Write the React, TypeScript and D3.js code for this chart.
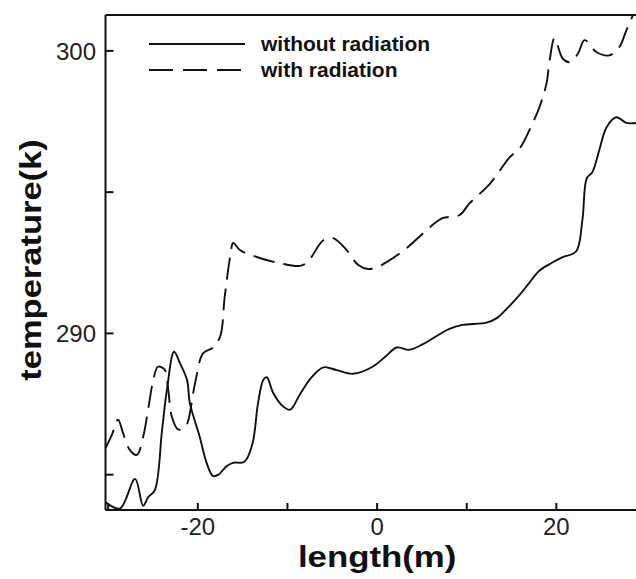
import React from "react";
import * as d3 from "d3";

// ---- data ----
const withoutRadX = [
  -30.4, -28.7, -27.0, -26.1, -25.55, -24.8, -24.0, -23.45, -22.65, -22.0, -21.2, -20.9, -19.8, -19.0,
  -18.3, -17.7, -16.8, -16.1, -14.8, -13.9, -13.3, -12.7, -12.3, -11.6, -10.6, -9.7, -8.6, -7.3, -6.0,
  -4.5, -2.7, -0.5, 1.0, 2.2, 3.6, 5.0, 6.6, 8.0, 9.5, 12.2, 13.4, 14.4, 15.9, 17.0, 18.1, 19.5, 20.7,
  22.2, 22.9, 23.4, 24.0, 24.8, 25.6, 26.7, 27.8, 28.9,
];
const withoutRadY = [
  284.05, 283.8, 284.85, 283.9, 284.2, 284.45, 286.55, 288.0, 289.35, 288.95, 288.35, 287.55, 286.35,
  285.4, 284.95, 285.0, 285.3, 285.42, 285.46, 286.1, 287.5, 288.35, 288.45, 287.9, 287.45, 287.3,
  287.85, 288.45, 288.8, 288.7, 288.57, 288.82, 289.2, 289.5, 289.42, 289.6, 289.9, 290.15, 290.3,
  290.38, 290.55, 290.85, 291.36, 291.8, 292.22, 292.5, 292.7, 292.9, 294.0, 295.5, 295.7, 296.5,
  297.3, 297.65, 297.45, 297.45,
];
const withRadX = [
  -30.4, -29.6, -28.9, -28.35, -27.6, -26.8, -26.1, -25.5, -25.0, -24.45, -23.7, -23.3, -22.9, -22.2,
  -21.45, -21.1, -20.3, -19.4, -18.3, -17.5, -17.0, -16.4, -16.05, -15.3, -13.1, -10.9, -8.6, -7.7,
  -6.0, -4.9, -3.4, -2.1, -1.0, 0.0, 1.1, 3.3, 5.9, 7.3, 9.2, 10.3, 12.6, 14.8, 15.9, 17.0, 18.1, 18.9,
  19.25, 19.8, 20.7, 21.5, 22.4, 23.15, 24.5, 25.9, 27.0, 27.8, 28.6, 29.5,
];
const withRadY = [
  285.88, 286.4, 286.95, 286.48, 285.88, 285.7, 286.34, 287.4, 288.3, 288.82, 288.72, 288.0, 287.05,
  286.6, 286.66, 286.88, 288.25, 289.3, 289.5, 289.9, 291.3, 292.7, 293.2, 292.95, 292.67, 292.49,
  292.39, 292.55, 293.3, 293.37, 292.95, 292.42, 292.28, 292.35, 292.53, 293.02, 293.76, 294.08,
  294.19, 294.6, 295.3, 296.24, 296.55, 297.2, 298.0, 298.85, 299.66, 300.45, 299.73, 299.6, 299.9,
  300.38, 299.95, 299.84, 300.12, 300.72, 301.3, 301.9,
];
const xTicks = [-30, -20, -10, 0, 10, 20, 30];
const xTickLabels = [-20, 0, 20];
const yTicks = [285, 290, 295, 300];
const yTickLabels = [290, 300];
const legendLabels = ["without radiation", "with radiation"];
const xTitle = "length(m)";
const yTitle = "temperature(k)";

const W = 636;
const H = 579;
const L = 105.5;
const R = 646;
const T = 15;
const B = 510;

export default function App() {
  const x = d3.scaleLinear().domain([-30.3, 30]).range([L, R]);
  const y = d3.scaleLinear().domain([283.75, 301.27]).range([B, T]);
  const line = d3
    .line<[number, number]>()
    .x((d) => x(d[0]))
    .y((d) => y(d[1]))
    .curve(d3.curveCatmullRom.alpha(0.5));
  const solid = withoutRadX.map((v, i) => [v, withoutRadY[i]] as [number, number]);
  const dashed = withRadX.map((v, i) => [v, withRadY[i]] as [number, number]);
  const font = "'Liberation Sans', Arial, sans-serif";
  const ink = "#111";

  return (
    <svg
      width={W}
      height={H}
      style={{ position: "absolute", left: 0, top: 0, background: "#fff" }}
      fontFamily={font}
    >
      <defs>
        <clipPath id="plot">
          <rect x={L} y={T} width={R - L} height={B - T} />
        </clipPath>
      </defs>
      <rect x={0} y={0} width={W} height={H} fill="#fff" />
      <g clipPath="url(#plot)" fill="none" stroke={ink} strokeWidth={1.9}>
        <path d={line(solid) || ""} />
        <path d={line(dashed) || ""} strokeDasharray="22,9" />
      </g>
      {/* frame */}
      <g stroke={ink} strokeWidth={2} fill="none">
        <line x1={L} x2={L} y1={T} y2={B} />
        <line x1={L} x2={R} y1={T} y2={T} />
        <line x1={L} x2={R} y1={B} y2={B} />
        <line x1={R} x2={R} y1={T} y2={B} />
        {xTicks.map((t) => (
          <line key={"xt" + t} x1={x(t)} x2={x(t)} y1={B} y2={B - 7} />
        ))}
        {yTicks.map((t) => (
          <line key={"yt" + t} x1={L} x2={L + 8} y1={y(t)} y2={y(t)} />
        ))}
      </g>
      {xTickLabels.map((t) => (
        <text key={"xl" + t} x={x(t)} y={535} textAnchor="middle" fontSize={24} fill="#222">
          {t}
        </text>
      ))}
      {yTickLabels.map((t) => (
        <text key={"yl" + t} x={96} y={y(t) + 9} textAnchor="end" fontSize={24} fill="#222">
          {t}
        </text>
      ))}
      <text
        transform={`translate(${x(0)}, 567) scale(1.2, 1)`}
        textAnchor="middle"
        fontSize={29}
        fontWeight="bold"
        fill={ink}
      >
        {xTitle}
      </text>
      <text
        transform={`translate(41, 260) rotate(-90) scale(1.15, 1)`}
        textAnchor="middle"
        fontSize={30}
        fontWeight="bold"
        fill={ink}
      >
        {yTitle}
      </text>
      {/* legend */}
      <g stroke={ink} strokeWidth={2}>
        <line x1={149} x2={245} y1={44} y2={44} />
        <line x1={149} x2={245} y1={70} y2={70} strokeDasharray="24,10" />
      </g>
      {legendLabels.map((s, i) => (
        <text
          key={s}
          transform={`translate(261, ${51 + i * 26}) scale(1.05, 1)`}
          fontSize={20}
          fontWeight="bold"
          fill={ink}
        >
          {s}
        </text>
      ))}
    </svg>
  );
}
